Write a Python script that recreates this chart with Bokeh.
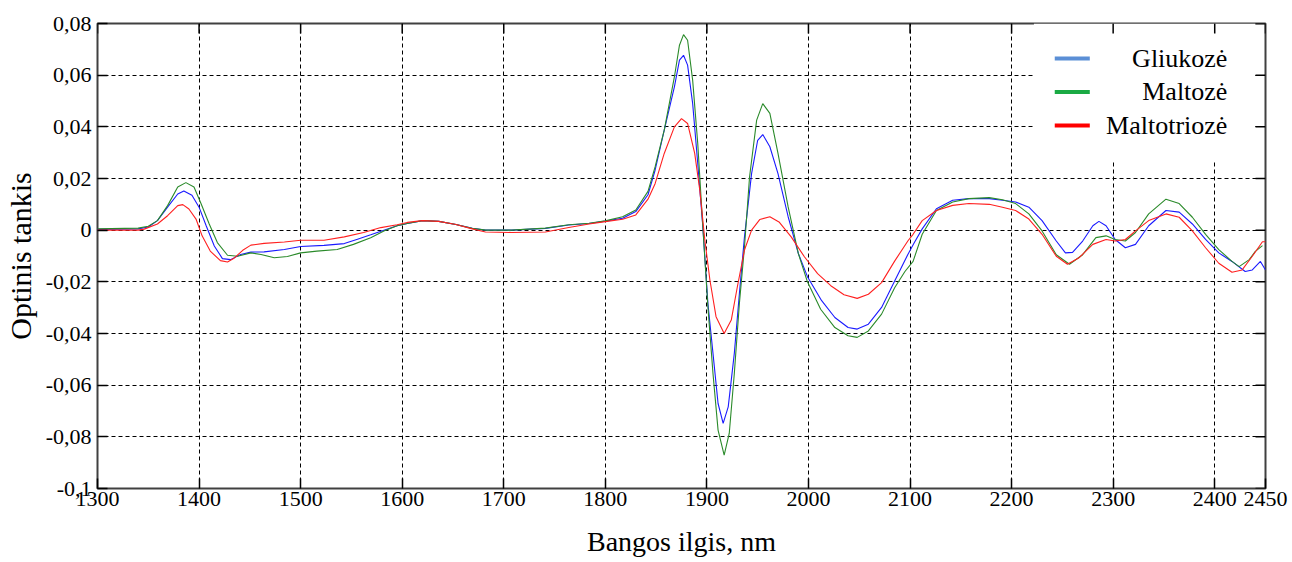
from bokeh.plotting import figure
from bokeh.models import Range1d, FixedTicker, CustomJSTickFormatter
from bokeh.core.properties import value
from bokeh.embed import file_html
from bokeh.resources import INLINE

# ---------------- data ----------------
series_names = ["Gliukozė", "Maltozė", "Maltotriozė"]

x_gliukoze = [1300, 1340, 1350, 1359, 1369, 1379, 1385, 1393, 1400, 1407, 1415, 1423, 1431, 1441, 1451,
              1464, 1484, 1500, 1523, 1543, 1556, 1569, 1582, 1595, 1605, 1620, 1636, 1653, 1669, 1682,
              1708, 1741, 1764, 1784, 1800, 1817, 1830, 1842, 1849, 1858, 1868, 1873, 1877, 1881, 1886,
              1891, 1896, 1901, 1906, 1911, 1916, 1921, 1927, 1932, 1937, 1944, 1950, 1955, 1962, 1970,
              1980, 1990, 1999, 2013, 2026, 2039, 2048, 2059, 2072, 2085, 2098, 2104, 2112, 2126, 2142,
              2158, 2178, 2191, 2204, 2217, 2230, 2244, 2253, 2260, 2270, 2280, 2286, 2293, 2302, 2312,
              2322, 2335, 2352, 2365, 2378, 2391, 2404, 2417, 2430, 2437, 2445, 2450]
y_gliukoze = [0.0003, 0.0005, 0.0012, 0.0037, 0.0089, 0.0140, 0.0152, 0.0135, 0.0089, 0.0017, -0.0061,
              -0.0110, -0.0114, -0.0094, -0.0085, -0.0084, -0.0075, -0.0063, -0.0059, -0.0052, -0.0035,
              -0.0018, 0.0000, 0.0017, 0.0026, 0.0037, 0.0034, 0.0022, 0.0007, 0.0000, 0.0000, 0.0007,
              0.0020, 0.0026, 0.0035, 0.0046, 0.0072, 0.0137, 0.0232, 0.0387, 0.0555, 0.0658, 0.0677,
              0.0639, 0.0490, 0.0258, 0.0013, -0.0284, -0.0477, -0.0671, -0.0748, -0.0684, -0.0477,
              -0.0245, -0.0026, 0.0219, 0.0348, 0.0370, 0.0323, 0.0219, 0.0052, -0.0090, -0.0180,
              -0.0273, -0.0338, -0.0377, -0.0383, -0.0364, -0.0299, -0.0196, -0.0093, -0.0050, 0.0005,
              0.0083, 0.0116, 0.0122, 0.0122, 0.0116, 0.0109, 0.0089, 0.0037, -0.0042, -0.0088, -0.0086,
              -0.0042, 0.0017, 0.0034, 0.0017, -0.0036, -0.0068, -0.0055, 0.0017, 0.0076, 0.0070,
              0.0024, -0.0036, -0.0088, -0.0121, -0.0160, -0.0154, -0.0121, -0.0154]

x_maltoze = [1300, 1340, 1350, 1359, 1369, 1379, 1387, 1395, 1402, 1410, 1418, 1428, 1438, 1451, 1461,
             1474, 1487, 1500, 1516, 1536, 1552, 1569, 1582, 1595, 1605, 1620, 1636, 1653, 1669, 1682,
             1708, 1741, 1764, 1784, 1800, 1817, 1830, 1842, 1849, 1858, 1868, 1873, 1877, 1881, 1886,
             1891, 1896, 1901, 1906, 1911, 1917, 1922, 1927, 1932, 1937, 1942, 1949, 1955, 1962, 1970,
             1980, 1990, 1999, 2012, 2026, 2039, 2048, 2059, 2072, 2085, 2095, 2103, 2112, 2126, 2142,
             2158, 2178, 2191, 2204, 2217, 2230, 2244, 2257, 2270, 2283, 2293, 2302, 2312, 2322, 2335,
             2352, 2365, 2378, 2391, 2404, 2417, 2424, 2434, 2440, 2447]
y_maltoze = [0.0005, 0.0008, 0.0015, 0.0037, 0.0095, 0.0167, 0.0184, 0.0167, 0.0102, 0.0024, -0.0048,
             -0.0097, -0.0101, -0.0088, -0.0094, -0.0107, -0.0102, -0.0088, -0.0081, -0.0075, -0.0055,
             -0.0029, -0.0003, 0.0017, 0.0026, 0.0037, 0.0034, 0.0022, 0.0007, 0.0000, 0.0000, 0.0008,
             0.0021, 0.0027, 0.0036, 0.0052, 0.0078, 0.0150, 0.0245, 0.0387, 0.0593, 0.0716, 0.0757,
             0.0735, 0.0580, 0.0335, 0.0013, -0.0297, -0.0555, -0.0774, -0.0871, -0.0787, -0.0555,
             -0.0284, -0.0065, 0.0206, 0.0426, 0.0490, 0.0452, 0.0297, 0.0090, -0.0090, -0.0200,
             -0.0306, -0.0377, -0.0409, -0.0415, -0.0390, -0.0325, -0.0222, -0.0160, -0.0121, -0.0016,
             0.0076, 0.0109, 0.0122, 0.0126, 0.0118, 0.0103, 0.0063, -0.0003, -0.0095, -0.0132, -0.0095,
             -0.0029, -0.0022, -0.0036, -0.0042, -0.0009, 0.0063, 0.0120, 0.0103, 0.0050, -0.0016,
             -0.0075, -0.0121, -0.0141, -0.0114, -0.0082, -0.0060]

x_maltotrioze = [1300, 1340, 1346, 1359, 1369, 1379, 1384, 1390, 1397, 1403, 1411, 1421, 1428, 1434, 1443,
                 1451, 1464, 1484, 1500, 1523, 1543, 1562, 1579, 1595, 1605, 1620, 1636, 1653, 1669, 1682,
                 1708, 1741, 1764, 1784, 1800, 1817, 1830, 1842, 1849, 1858, 1868, 1875, 1881, 1888, 1893,
                 1898, 1903, 1909, 1917, 1924, 1930, 1937, 1944, 1952, 1962, 1971, 1983, 1996, 2009, 2022,
                 2035, 2048, 2059, 2072, 2085, 2098, 2103, 2112, 2126, 2142, 2158, 2178, 2191, 2204, 2217,
                 2230, 2244, 2255, 2266, 2280, 2293, 2302, 2312, 2322, 2335, 2352, 2365, 2378, 2391, 2404,
                 2417, 2427, 2437, 2447, 2450]
y_maltotrioze = [0.0000, 0.0000, 0.0004, 0.0024, 0.0056, 0.0095, 0.0099, 0.0082, 0.0043, -0.0022, -0.0081,
                 -0.0118, -0.0123, -0.0110, -0.0078, -0.0058, -0.0051, -0.0046, -0.0039, -0.0039, -0.0026,
                 -0.0009, 0.0010, 0.0021, 0.0030, 0.0037, 0.0034, 0.0022, 0.0005, -0.0007, -0.0009,
                 -0.0007, 0.0010, 0.0024, 0.0033, 0.0042, 0.0059, 0.0120, 0.0180, 0.0297, 0.0400, 0.0432,
                 0.0413, 0.0297, 0.0155, -0.0039, -0.0194, -0.0335, -0.0400, -0.0348, -0.0219, -0.0077,
                 0.0000, 0.0041, 0.0052, 0.0032, -0.0026, -0.0103, -0.0168, -0.0215, -0.0250, -0.0264,
                 -0.0248, -0.0203, -0.0119, -0.0041, -0.0016, 0.0037, 0.0076, 0.0096, 0.0103, 0.0100,
                 0.0089, 0.0076, 0.0043, -0.0016, -0.0101, -0.0132, -0.0108, -0.0055, -0.0036, -0.0042,
                 -0.0036, -0.0003, 0.0037, 0.0063, 0.0050, -0.0003, -0.0068, -0.0128, -0.0163, -0.0154,
                 -0.0101, -0.0045, -0.0045]

x_ticks = [1300, 1400, 1500, 1600, 1700, 1800, 1900, 2000, 2100, 2200, 2300, 2400, 2450]
y_ticks = [-0.1, -0.08, -0.06, -0.04, -0.02, 0.0, 0.02, 0.04, 0.06, 0.08]

x_label = "Bangos ilgis, nm"
y_label = "Optinis tankis"

# ---------------- styling ----------------
FONT = "Liberation Serif"
line_colors = ["#1a1aff", "#2a8a2a", "#ff2020"]
legend_colors = ["#5b8fd6", "#1aaa44", "#ff0000"]

X0, X1 = 1300, 2450
Y0, Y1 = -0.1, 0.08
FRAME_W, FRAME_H = 1169, 465
px_x = (X1 - X0) / FRAME_W   # data units per pixel
px_y = (Y1 - Y0) / FRAME_H
TICK = 10                     # inward tick length in px

p = figure(width=1292, height=562, output_backend="svg", toolbar_location=None,
           x_range=Range1d(X0, X1), y_range=Range1d(Y0, Y1),
           min_border_left=96, min_border_top=23, min_border_right=27, min_border_bottom=74)

p.background_fill_color = "white"
p.border_fill_color = "white"
p.outline_line_color = "#404040"
p.outline_line_width = 2

fmt = CustomJSTickFormatter(code="""
    const v = Math.round(tick * 100) / 100;
    return v.toString().replace('.', ',');
""")

for ax in p.xaxis:
    ax.ticker = FixedTicker(ticks=x_ticks)
for ax in p.yaxis:
    ax.ticker = FixedTicker(ticks=y_ticks)
    ax.formatter = fmt

for ax in list(p.xaxis) + list(p.yaxis):
    ax.axis_line_color = None
    ax.major_tick_in = TICK
    ax.major_tick_out = 0
    ax.major_tick_line_color = "black"
    ax.major_tick_line_width = 1.5
    ax.minor_tick_line_color = None
    ax.major_label_text_font = FONT
    ax.major_label_text_font_size = "22px"
    ax.major_label_text_color = "black"
    ax.axis_label_text_font = FONT
    ax.axis_label_text_font_style = "normal"
    ax.axis_label_text_color = "black"

p.xaxis.axis_label = x_label
p.yaxis.axis_label = y_label
p.xaxis.axis_label_text_font_size = "28px"
p.yaxis.axis_label_text_font_size = "30px"
p.xaxis.major_label_standoff = 3
p.xaxis.axis_label_standoff = 17
p.yaxis.major_label_standoff = 6
p.yaxis.axis_label_standoff = 6

# grid
p.xgrid.ticker = FixedTicker(ticks=x_ticks)
p.ygrid.ticker = FixedTicker(ticks=y_ticks)
for g in (p.xgrid, p.ygrid):
    g.grid_line_color = "black"
    g.grid_line_dash = "4 3"
    g.grid_line_width = 1

# legend background (covers grid)
p.quad(left=2222, right=2440, top=Y1, bottom=0.0265, fill_color="white", line_color=None)

# inward ticks on top and right edges (mirroring bottom/left)
p.segment(x0=x_ticks, y0=[Y1] * len(x_ticks), x1=x_ticks, y1=[Y1 - TICK * px_y] * len(x_ticks),
          line_color="black", line_width=1.5)
p.segment(x0=[X1] * len(y_ticks), y0=y_ticks, x1=[X1 - TICK * px_x] * len(y_ticks), y1=y_ticks,
          line_color="black", line_width=1.5)

# data lines
xs = [x_gliukoze, x_maltoze, x_maltotrioze]
ys = [y_gliukoze, y_maltoze, y_maltotrioze]
for xv, yv, c in zip(xs, ys, line_colors):
    p.line(xv, yv, line_color=c, line_width=1.1)

# manual legend (right aligned labels, as in the original)
leg_rows = [0.0665, 0.0535, 0.0405]
for name, c, ry in zip(series_names, legend_colors, leg_rows):
    p.segment(x0=[2242.5], y0=[ry], x1=[2277], y1=[ry], line_color=c, line_width=4)
    p.text(x=[2412.5], y=[ry], text=[name], text_align="right", text_baseline="middle",
           text_font=value(FONT), text_font_size="26px", text_color="black")

open("out.html", "w").write(file_html(p, INLINE))
